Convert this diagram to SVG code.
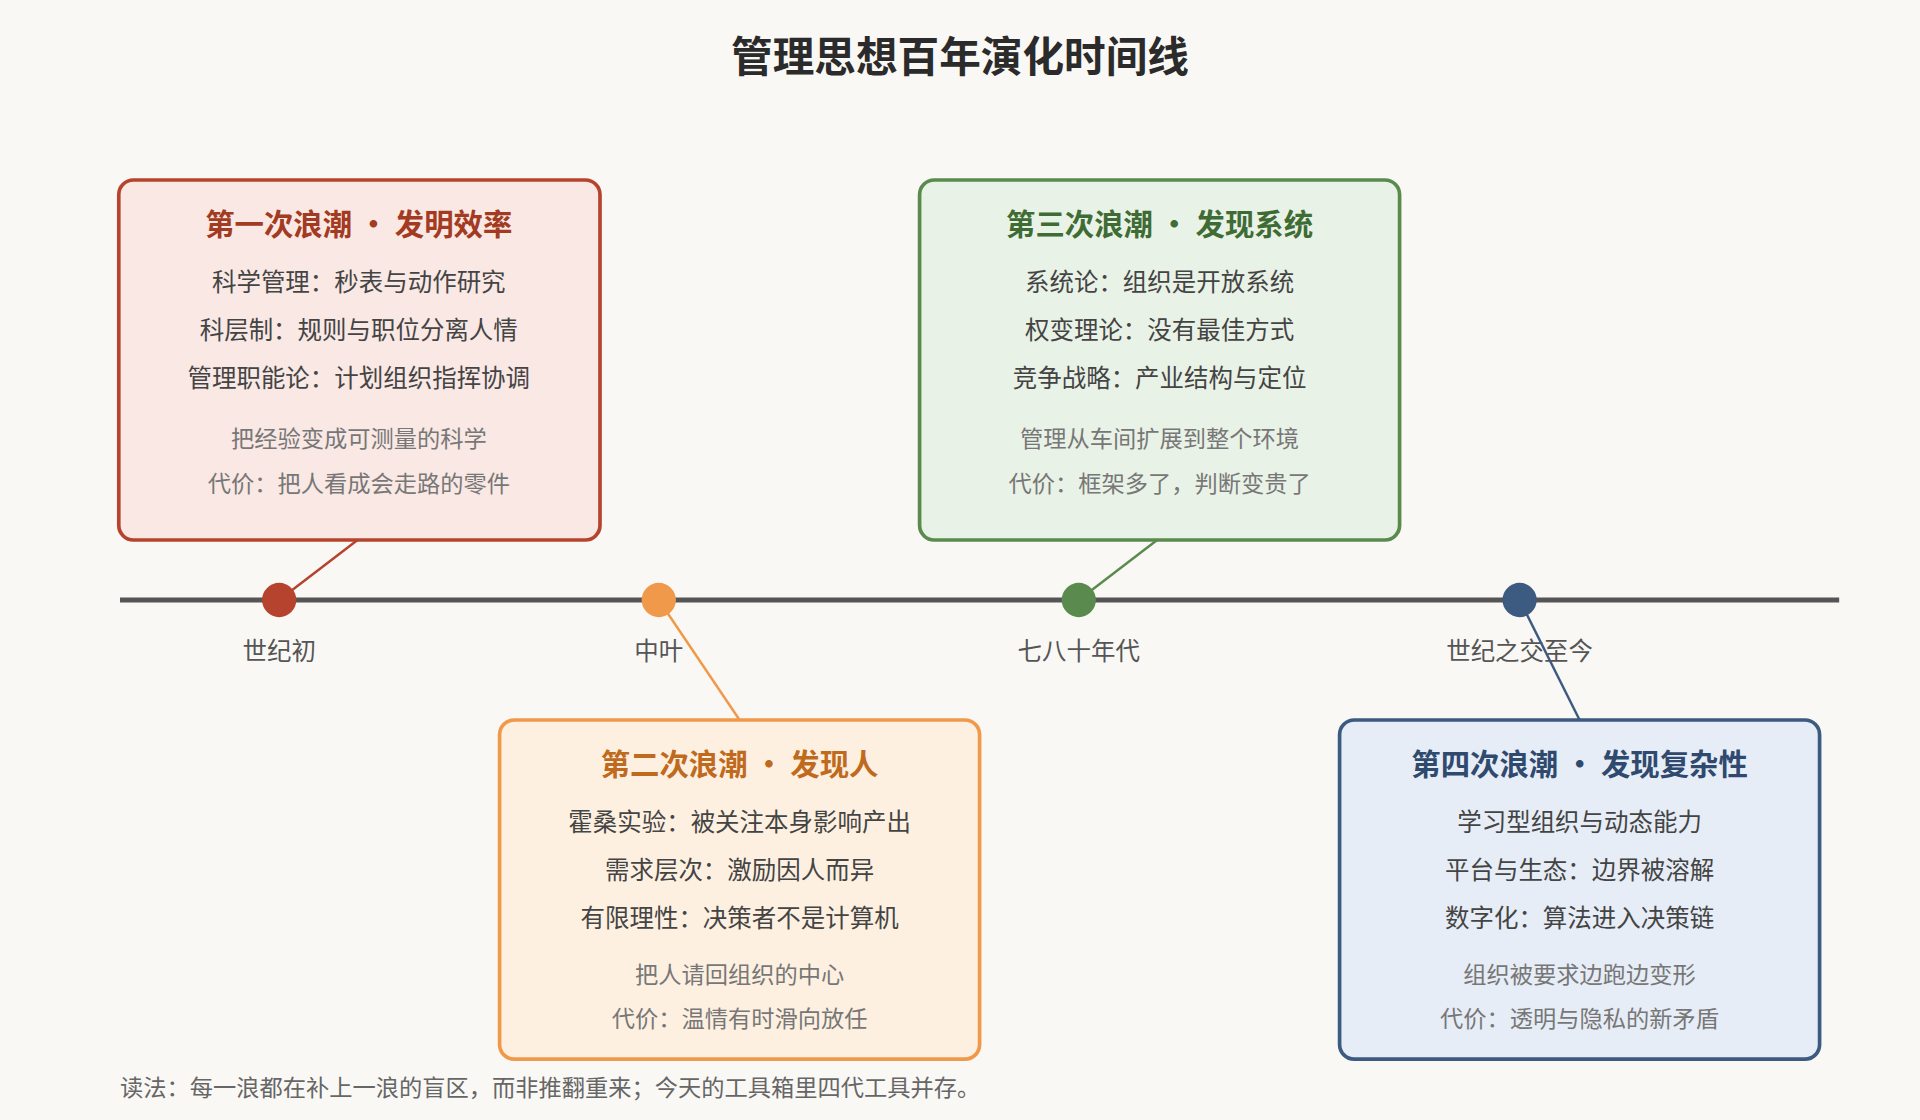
<svg xmlns="http://www.w3.org/2000/svg" width="1920" height="1120" viewBox="0 0 1920 1120">
<style>
text{font-family:"Noto Sans CJK SC","Noto Sans",sans-serif;text-anchor:middle}
.t{font-size:24px;font-weight:bold}
.i{font-size:20px;fill:#444}
.n{font-size:19px;fill:#777}
.l{font-size:20px;fill:#555}
.box{stroke-width:3}
</style>
<rect width="1920" height="1120" fill="#faf8f5"/>
<g transform="scale(1.22449)">
<text x="784" y="59" style="font-size:34px;font-weight:bold;fill:#2b2b2b">管理思想百年演化时间线</text>
<line x1="98" y1="490" x2="1502" y2="490" stroke="#555" stroke-width="4"/>
<g id="labels">
<text class="l" x="228" y="539">世纪初</text>
<text class="l" x="538" y="539">中叶</text>
<text class="l" x="881" y="539">七八十年代</text>
<text class="l" x="1241" y="539">世纪之交至今</text>
</g>
<g id="connectors" stroke-width="2" fill="none">
<line x1="292" y1="441" x2="228" y2="490" stroke="#b5432d"/>
<line x1="945" y1="441" x2="881" y2="490" stroke="#5a8a4e"/>
<line x1="538" y1="490" x2="604" y2="588" stroke="#f0994a"/>
<line x1="1241" y1="490" x2="1290" y2="588" stroke="#3d5a80"/>
</g>
<g id="dots">
<circle cx="228" cy="490" r="14" fill="#b5432d"/>
<circle cx="538" cy="490" r="14" fill="#f0994a"/>
<circle cx="881" cy="490" r="14" fill="#5a8a4e"/>
<circle cx="1241" cy="490" r="14" fill="#3d5a80"/>
</g>
<g id="wave1">
<rect class="box" x="97" y="147" width="393" height="294" rx="12" fill="#f9e8e4" stroke="#b5432d"/>
<text class="t" x="293" y="192" fill="#a33a22">第一次浪潮 • 发明效率</text>
<text class="i" x="293" y="238">科学管理：秒表与动作研究</text>
<text class="i" x="293" y="277">科层制：规则与职位分离人情</text>
<text class="i" x="293" y="316">管理职能论：计划组织指挥协调</text>
<text class="n" x="293" y="365">把经验变成可测量的科学</text>
<text class="n" x="293" y="402">代价：把人看成会走路的零件</text>
</g>
<g id="wave3">
<rect class="box" x="751" y="147" width="392" height="294" rx="12" fill="#e9f2e6" stroke="#5a8a4e"/>
<text class="t" x="947" y="192" fill="#3f6b35">第三次浪潮 • 发现系统</text>
<text class="i" x="947" y="238">系统论：组织是开放系统</text>
<text class="i" x="947" y="277">权变理论：没有最佳方式</text>
<text class="i" x="947" y="316">竞争战略：产业结构与定位</text>
<text class="n" x="947" y="365">管理从车间扩展到整个环境</text>
<text class="n" x="947" y="402">代价：框架多了，判断变贵了</text>
</g>
<g id="wave2">
<rect class="box" x="408" y="588" width="392" height="277" rx="12" fill="#fdf0e1" stroke="#f0994a"/>
<text class="t" x="604" y="633" fill="#c06a1e">第二次浪潮 • 发现人</text>
<text class="i" x="604" y="679">霍桑实验：被关注本身影响产出</text>
<text class="i" x="604" y="718">需求层次：激励因人而异</text>
<text class="i" x="604" y="757">有限理性：决策者不是计算机</text>
<text class="n" x="604" y="803">把人请回组织的中心</text>
<text class="n" x="604" y="839">代价：温情有时滑向放任</text>
</g>
<g id="wave4">
<rect class="box" x="1094" y="588" width="392" height="277" rx="12" fill="#e6edf6" stroke="#3d5a80"/>
<text class="t" x="1290" y="633" fill="#2f4a6e">第四次浪潮 • 发现复杂性</text>
<text class="i" x="1290" y="679">学习型组织与动态能力</text>
<text class="i" x="1290" y="718">平台与生态：边界被溶解</text>
<text class="i" x="1290" y="757">数字化：算法进入决策链</text>
<text class="n" x="1290" y="803">组织被要求边跑边变形</text>
<text class="n" x="1290" y="839">代价：透明与隐私的新矛盾</text>
</g>
<text x="98" y="895" style="font-size:19px;fill:#666;text-anchor:start">读法：每一浪都在补上一浪的盲区，而非推翻重来；今天的工具箱里四代工具并存。</text>
</g>
</svg>
